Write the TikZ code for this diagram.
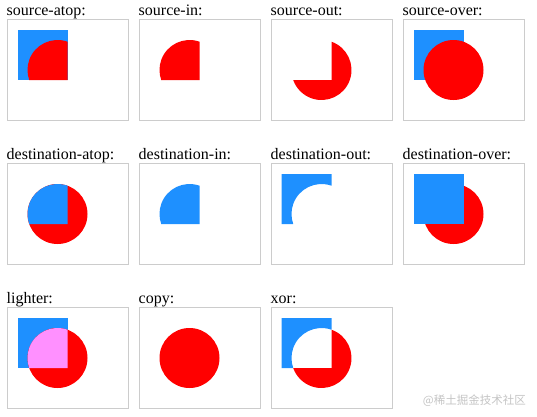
\documentclass[tikz,border=0pt]{standalone}
\usepackage{fontspec}
\setmainfont{Liberation Serif}
\newfontfamily\cjkfont{Noto Sans CJK SC}
\definecolor{dblue}{HTML}{1E90FF}
\definecolor{pinkmix}{HTML}{FF90FF}
\definecolor{framegray}{HTML}{CCCCCC}
\definecolor{wmgray}{HTML}{C4C4C4}
% circle: centre (50,50), radius 30; square: (10,10)-(60,60)
% circle meets square edges at (60,21.7157) and (21.7157,60)
\begin{document}
\begin{tikzpicture}[x=1pt,y=-1pt,
  lbl/.style={anchor=base west, inner sep=0pt, font=\fontsize{16}{19}\selectfont},
  canvasframe/.style={draw=framegray, line width=1pt},
  sq/.style={fill=dblue},
  ci/.style={fill=red}]
\useasboundingbox (0,0) rectangle (537,416);

% ---------- row 1 ----------
\node[lbl] (l1) at (6.5,15) {source-atop:};
\begin{scope}[shift={(7.5,20)}]
  \fill[sq] (10,10) rectangle (60,60);
  \fill[ci] (60,21.7157) arc[start angle=-70.5288, end angle=-199.4712, radius=30] -- (60,60) -- cycle;
  \draw[canvasframe] (-0.5,-0.5) rectangle (120.5,100.5);
\end{scope}

\node[lbl] (l2) at (138.5,15) {source-in:};
\begin{scope}[shift={(139.5,20)}]
  \fill[ci] (60,21.7157) arc[start angle=-70.5288, end angle=-199.4712, radius=30] -- (60,60) -- cycle;
  \draw[canvasframe] (-0.5,-0.5) rectangle (120.5,100.5);
\end{scope}

\node[lbl] (l3) at (270.5,15) {source-out:};
\begin{scope}[shift={(271.5,20)}]
  \fill[ci] (60,21.7157) arc[start angle=-70.5288, end angle=160.5288, radius=30] -- (60,60) -- cycle;
  \draw[canvasframe] (-0.5,-0.5) rectangle (120.5,100.5);
\end{scope}

\node[lbl] (l4) at (402.5,15) {source-over:};
\begin{scope}[shift={(403.5,20)}]
  \fill[sq] (10,10) rectangle (60,60);
  \fill[ci] (50,50) circle[radius=30];
  \draw[canvasframe] (-0.5,-0.5) rectangle (120.5,100.5);
\end{scope}

% ---------- row 2 ----------
\node[lbl] (l5) at (6.5,159) {destination-atop:};
\begin{scope}[shift={(7.5,164)}]
  \fill[ci] (50,50) circle[radius=30];
  \fill[sq] (60,21.7157) arc[start angle=-70.5288, end angle=-199.4712, radius=30] -- (60,60) -- cycle;
  \draw[canvasframe] (-0.5,-0.5) rectangle (120.5,100.5);
\end{scope}

\node[lbl] (l6) at (138.5,159) {destination-in:};
\begin{scope}[shift={(139.5,164)}]
  \fill[sq] (60,21.7157) arc[start angle=-70.5288, end angle=-199.4712, radius=30] -- (60,60) -- cycle;
  \draw[canvasframe] (-0.5,-0.5) rectangle (120.5,100.5);
\end{scope}

\node[lbl] (l7) at (270.5,159) {destination-out:};
\begin{scope}[shift={(271.5,164)}]
  \fill[sq] (10,10) -- (60,10) -- (60,21.7157) arc[start angle=-70.5288, end angle=-199.4712, radius=30] -- (10,60) -- cycle;
  \draw[canvasframe] (-0.5,-0.5) rectangle (120.5,100.5);
\end{scope}

\node[lbl] (l8) at (402.5,159) {destination-over:};
\begin{scope}[shift={(403.5,164)}]
  \fill[ci] (50,50) circle[radius=30];
  \fill[sq] (10,10) rectangle (60,60);
  \draw[canvasframe] (-0.5,-0.5) rectangle (120.5,100.5);
\end{scope}

% ---------- row 3 ----------
\node[lbl] (l9) at (6.5,303) {lighter:};
\begin{scope}[shift={(7.5,308)}]
  \fill[sq] (10,10) rectangle (60,60);
  \fill[ci] (50,50) circle[radius=30];
  \fill[pinkmix] (60,21.7157) arc[start angle=-70.5288, end angle=-199.4712, radius=30] -- (60,60) -- cycle;
  \draw[canvasframe] (-0.5,-0.5) rectangle (120.5,100.5);
\end{scope}

\node[lbl] (l10) at (138.5,303) {copy:};
\begin{scope}[shift={(139.5,308)}]
  \fill[ci] (50,50) circle[radius=30];
  \draw[canvasframe] (-0.5,-0.5) rectangle (120.5,100.5);
\end{scope}

\node[lbl] (l11) at (270.5,303) {xor:};
\begin{scope}[shift={(271.5,308)}]
  \fill[sq] (10,10) -- (60,10) -- (60,21.7157) arc[start angle=-70.5288, end angle=-199.4712, radius=30] -- (10,60) -- cycle;
  \fill[ci] (60,21.7157) arc[start angle=-70.5288, end angle=160.5288, radius=30] -- (60,60) -- cycle;
  \draw[canvasframe] (-0.5,-0.5) rectangle (120.5,100.5);
\end{scope}

% watermark
\node[anchor=base east, inner sep=0pt, text=wmgray, font=\cjkfont\fontsize{11.5}{13}\selectfont] (wm) at (526,404) {@稀土掘金技术社区};
\end{tikzpicture}
\end{document}
